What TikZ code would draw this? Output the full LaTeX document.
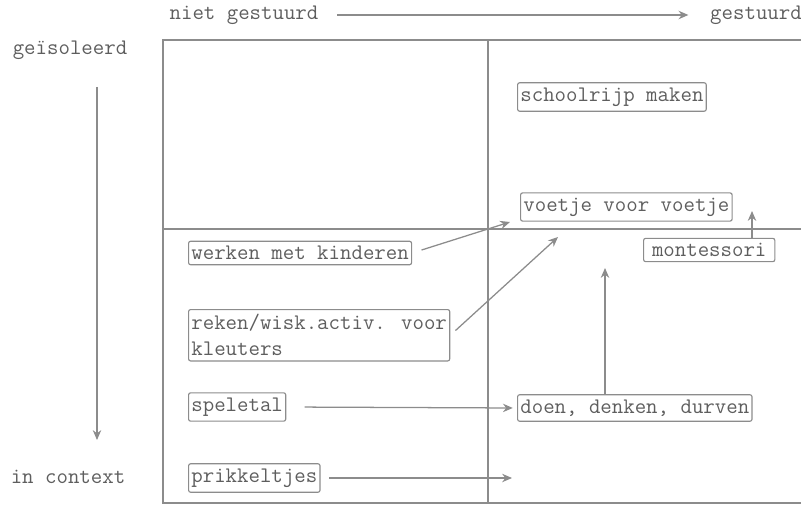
\documentclass[tikz,border=0pt]{standalone}
\usepackage{fontspec}
\usetikzlibrary{arrows.meta}
\definecolor{inkgrey}{HTML}{5E5E5E}
\definecolor{linegrey}{HTML}{8C8C8C}

\begin{document}
\begin{tikzpicture}[x=0.025cm,y=-0.025cm,
  every node/.style={font=\ttfamily\fontsize{15.8}{18.5}\selectfont, text=inkgrey},
  box/.style={draw=linegrey, line width=0.8pt, rounded corners=1.5pt, inner xsep=2pt, inner ysep=3.5pt},
  grid/.style={draw=linegrey, line width=0.9pt},
  flow/.style={draw=linegrey, line width=0.9pt, -{Stealth[length=7pt,width=6pt]}}]
  \useasboundingbox (0,0) rectangle (801,505);

  % axes
  \node (niet) at (244,15) {niet gestuurd};
  \node (gest) at (756,15) {gestuurd};
  \draw[flow, shorten <=10pt, shorten >=12pt] (niet.east) -- (gest.west);

  \node (geis) at (70,50) {geïsoleerd};
  \node (incon) at (68,477) {in context};
  \coordinate (vtop) at (97,87);
  \coordinate (vbot) at (97,440);
  \draw[flow] (vtop) -- (vbot);

  % kwadranten
  \draw[grid] (801,40) -- (163,40) -- (163,503) -- (801,503);
  \draw[grid] (488,40) -- (488,503);
  \draw[grid] (163,229) -- (801,229);

  % methoden
  \node[box, anchor=west] (schoolrijp) at (517,97) {schoolrijp maken};
  \node[box, anchor=west] (voetje) at (520,207) {voetje voor voetje};
  \node[box, anchor=west, inner xsep=6pt] (montessori) at (643,250) {montessori};
  \node[box, anchor=west] (werken) at (188,253) {werken met kinderen};
  \node[box, anchor=north west, align=left] (reken) at (188,309) {reken/wisk.activ. voor\\kleuters};
  \node[box, anchor=west] (speletal) at (188,407) {speletal};
  \node[box, anchor=west] (doen) at (517,408) {doen, denken, durven};
  \node[box, anchor=west] (prikkel) at (188,478) {prikkeltjes};

  % verschuivingen
  \coordinate (t1) at (510,222);
  \coordinate (t2) at (558,237);
  \coordinate (t3) at (605,268);
  \coordinate (t4) at (752,211);
  \coordinate (t5) at (512,478);
  \draw[flow, shorten <=7pt] (werken.east) -- (t1);
  \draw[flow, shorten <=5pt] (reken.east) -- (t2);
  \draw[flow] (t3 |- doen.north) -- (t3);
  \draw[flow] (t4 |- montessori.north) -- (t4);
  \draw[flow, shorten <=13pt, shorten >=3pt] (speletal.east) -- (doen.west);
  \draw[flow, shorten <=6pt] (prikkel.east) -- (t5);
\end{tikzpicture}
\end{document}
